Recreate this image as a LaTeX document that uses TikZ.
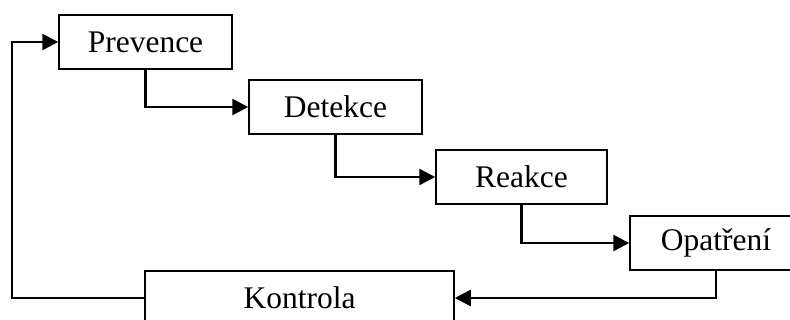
\documentclass[tikz,border=0pt]{standalone}
\usepackage{fontspec}
\setmainfont{Liberation Serif}
\usetikzlibrary{arrows.meta}
\begin{document}
\begin{tikzpicture}[x=1pt,y=-1pt,
    krok/.style={draw,line width=1.5pt,inner sep=0pt,minimum height=54pt,font=\fontsize{31.5}{37}\selectfont},
    sipka/.style={line width=2.5pt,-{Triangle[length=16pt,width=16pt]}}]
                 \useasboundingbox (0,0) rectangle (790,320);
                 \node[krok,minimum width=173pt] (prevence) at (145.5,42) {Prevence};
                 \node[krok,minimum width=173pt] (detekce) at (335.5,107) {Detekce};
                 \node[krok,minimum width=171pt] (reakce) at (521.5,177) {Reakce};
                 \node[krok,minimum width=172pt] (opatreni) at (716,243) {Opatření};
                 \node[krok,minimum width=309pt] (kontrola) at (299.5,298) {Kontrola};
                 \coordinate (smycka) at (12,0);
                   \draw[sipka](prevence.south) |- (detekce.west);
                   \draw[sipka](detekce.south) |- (reakce.west);
                   \draw[sipka](reakce.south) |- (opatreni.west);
                   \draw[sipka](opatreni.south) |- (kontrola.east);
                   \draw[sipka](kontrola.west) -- (kontrola.west -| smycka) |- (prevence.west);
            \end{tikzpicture}
\end{document}
